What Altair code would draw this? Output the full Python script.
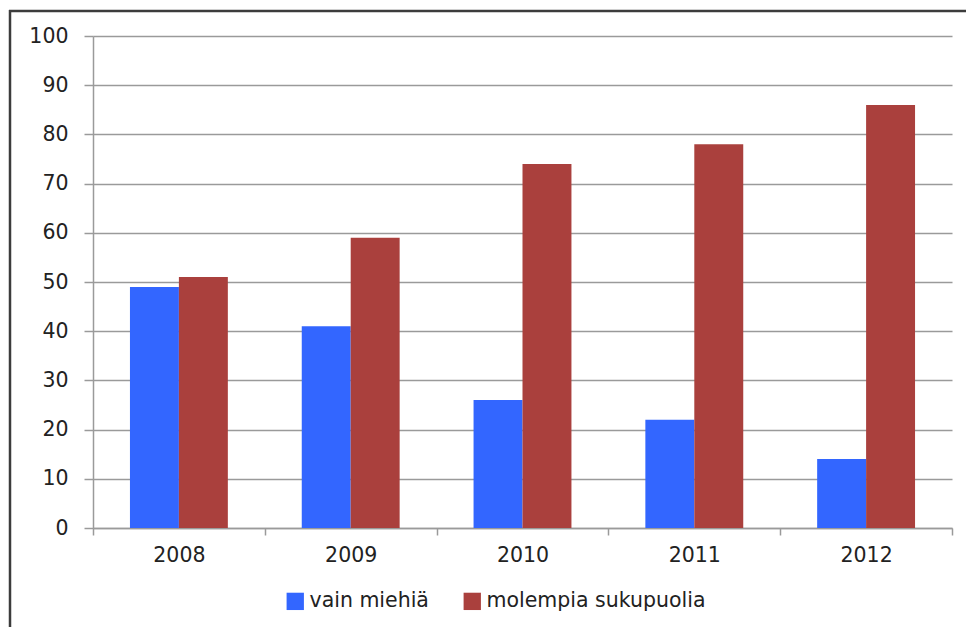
import altair as alt
import pandas as pd

# Yearly shares, by group
years = ["2008", "2009", "2010", "2011", "2012"]
series_names = ["vain miehiä", "molempia sukupuolia"]
vain_miehia = [49, 41, 26, 22, 14]
molempia_sukupuolia = [51, 59, 74, 78, 86]
y_ticks = [0, 10, 20, 30, 40, 50, 60, 70, 80, 90, 100]
colors = ["#3366FF", "#AA403D"]

rows = []
for i, yr in enumerate(years):
    rows.append({"vuosi": yr, "ryhma": series_names[0], "arvo": vain_miehia[i]})
    rows.append({"vuosi": yr, "ryhma": series_names[1], "arvo": molempia_sukupuolia[i]})
df = pd.DataFrame(rows)

FONT = "DejaVu Sans"
FS = 20.5
TEXT = "#222222"
GRID = "#9a9a9a"

bars = alt.Chart(df).mark_bar().encode(
    x=alt.X(
        "vuosi:N",
        sort=years,
        title=None,
        scale=alt.Scale(paddingInner=0, paddingOuter=0),
        axis=alt.Axis(
            labelAngle=0,
            labelFont=FONT,
            labelFontSize=FS,
            labelColor=TEXT,
            labelPadding=10,
            tickSize=7,
            tickColor=GRID,
            tickWidth=1.5,
            tickBand="extent",
            domainColor=GRID,
            domainWidth=1.5,
            grid=False,
        ),
    ),
    # the pair of bars sits in the middle of each year's slot
    xOffset=alt.XOffset(
        "ryhma:N",
        sort=series_names,
        scale=alt.Scale(paddingInner=0, paddingOuter=0.755),
    ),
    y=alt.Y(
        "arvo:Q",
        title=None,
        scale=alt.Scale(domain=[0, 100], nice=False),
        axis=alt.Axis(
            values=y_ticks,
            labelFont=FONT,
            labelFontSize=FS,
            labelColor=TEXT,
            labelPadding=16,
            tickSize=9,
            tickColor=GRID,
            tickWidth=1.5,
            domainColor=GRID,
            domainWidth=1.5,
            gridColor=GRID,
            gridWidth=1.5,
        ),
    ),
    color=alt.Color(
        "ryhma:N",
        sort=series_names,
        scale=alt.Scale(domain=series_names, range=colors),
        legend=alt.Legend(
            title=None,
            orient="none",
            direction="horizontal",
            legendX=192,
            legendY=555,
            symbolType="square",
            symbolSize=300,
            symbolStrokeWidth=0,
            symbolOpacity=1,
            labelFont=FONT,
            labelFontSize=FS,
            labelColor=TEXT,
            labelOffset=4,
            labelLimit=400,
            columnPadding=33,
        ),
    ),
)

# Outer frame lines (top and left edges)
frame_data = alt.Data(values=[{"k": 1}])
frame_top = alt.Chart(frame_data).mark_rule(color="#3c3c3c", strokeWidth=2.5).encode(
    x=alt.value(-84), x2=alt.value(880), y=alt.value(-25)
)
frame_left = alt.Chart(frame_data).mark_rule(color="#3c3c3c", strokeWidth=2.5).encode(
    x=alt.value(-83), y=alt.value(-26), y2=alt.value(600)
)

chart = (
    alt.layer(bars, frame_top, frame_left)
    .properties(
        width=859,
        height=492,
        autosize=alt.AutoSizeParams(type="none"),
        padding={"left": 93, "top": 36, "right": 14, "bottom": 99},
        background="white",
    )
    .configure_view(stroke=None)
)

chart.save("out.html", embed_options={"renderer": "svg", "actions": False})
